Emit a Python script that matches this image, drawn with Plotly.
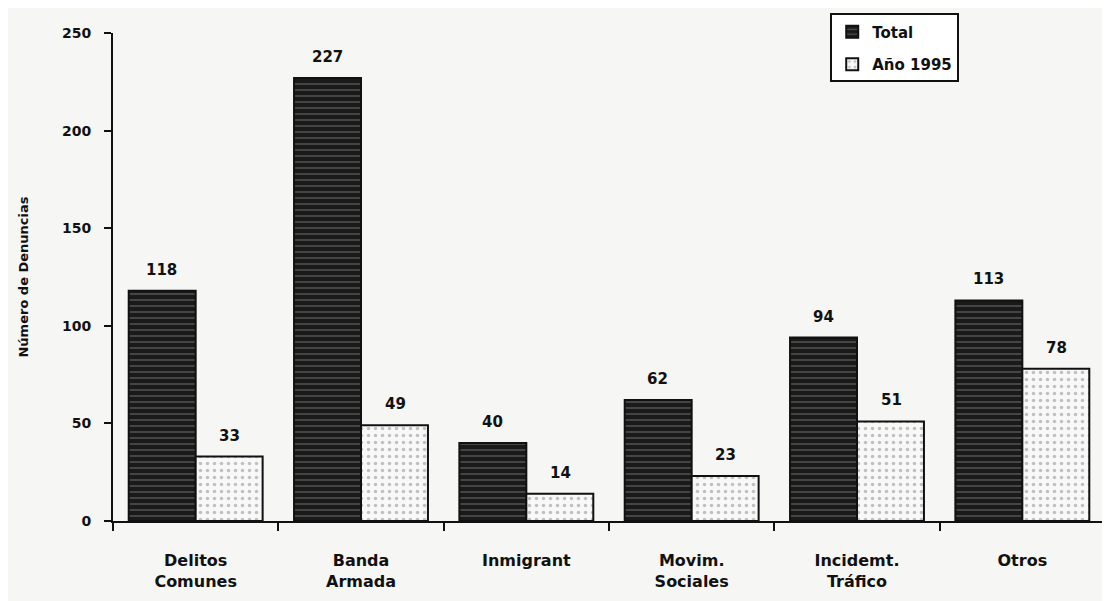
import plotly.graph_objects as go

categories = ["Delitos<br>Comunes", "Banda<br>Armada", "Inmigrant", "Movim.<br>Sociales", "Incidemt.<br>Tráfico", "Otros"]
total = [118, 227, 40, 62, 94, 113]
year_1995 = [33, 49, 14, 23, 51, 78]
y_ticks = [0, 50, 100, 150, 200, 250]

font_family = "DejaVu Sans, Liberation Sans, Arial, sans-serif"

fig = go.Figure()
fig.add_trace(go.Bar(
    x=categories, y=total, name="<b>Total</b>", legendgroup="a",
    marker=dict(color="#1a1a1a", line=dict(color="#111111", width=2),
                pattern=dict(shape="-", fgcolor="#8c8c8c", size=6, solidity=0.25)),
))
fig.add_trace(go.Bar(
    x=categories, y=year_1995, name="<b>Año 1995</b>", legendgroup="b",
    marker=dict(color="#f8f8f8", line=dict(color="#111111", width=2),
                pattern=dict(shape=".", fgcolor="#888888", size=7, solidity=0.2)),
))

# value labels above bars
for series, shift in ((total, -34), (year_1995, 34)):
    for cat, v in zip(categories, series):
        fig.add_annotation(x=cat, y=v, text=f"<b>{v}</b>", showarrow=False,
                           xshift=shift, yshift=21, yanchor="middle",
                           font=dict(size=15, color="#111111", family=font_family))

fig.update_layout(
    width=1102, height=593,
    barmode="group", bargap=0.19, bargroupgap=0,
    paper_bgcolor="#f6f6f4", plot_bgcolor="#f6f6f4",
    margin=dict(l=105, r=5, t=20, b=80),
    font=dict(family=font_family, color="#111111"),
    showlegend=True,
    legend=dict(x=0.723, y=1.04, xanchor="left", yanchor="top",
                bgcolor="#ffffff", bordercolor="#111111", borderwidth=2,
                font=dict(size=15, family=font_family), traceorder="grouped",
                tracegroupgap=10, itemwidth=30),
    yaxis=dict(range=[0, 250], tickvals=y_ticks, ticktext=[f"<b>{v}</b>" for v in y_ticks],
               showgrid=False, zeroline=False, showline=True, linecolor="#111111", linewidth=2,
               ticks="outside", ticklen=7, tickwidth=2, tickcolor="#111111",
               tickfont=dict(size=14, family=font_family), ticklabelstandoff=10,
               title=dict(text="<b>Número de Denuncias</b>", font=dict(size=13, family=font_family), standoff=30)),
    xaxis=dict(showgrid=False, showline=True, linecolor="#111111", linewidth=2,
               ticks="outside", tickson="boundaries", ticklen=8, tickwidth=2, tickcolor="#111111",
               tickvals=categories, ticktext=[f"<b>{c.replace('<br>', '</b><br><b>')}</b>" for c in categories],
               tickfont=dict(size=16, family=font_family), ticklabelstandoff=24),
)

fig.write_html("out.html")
